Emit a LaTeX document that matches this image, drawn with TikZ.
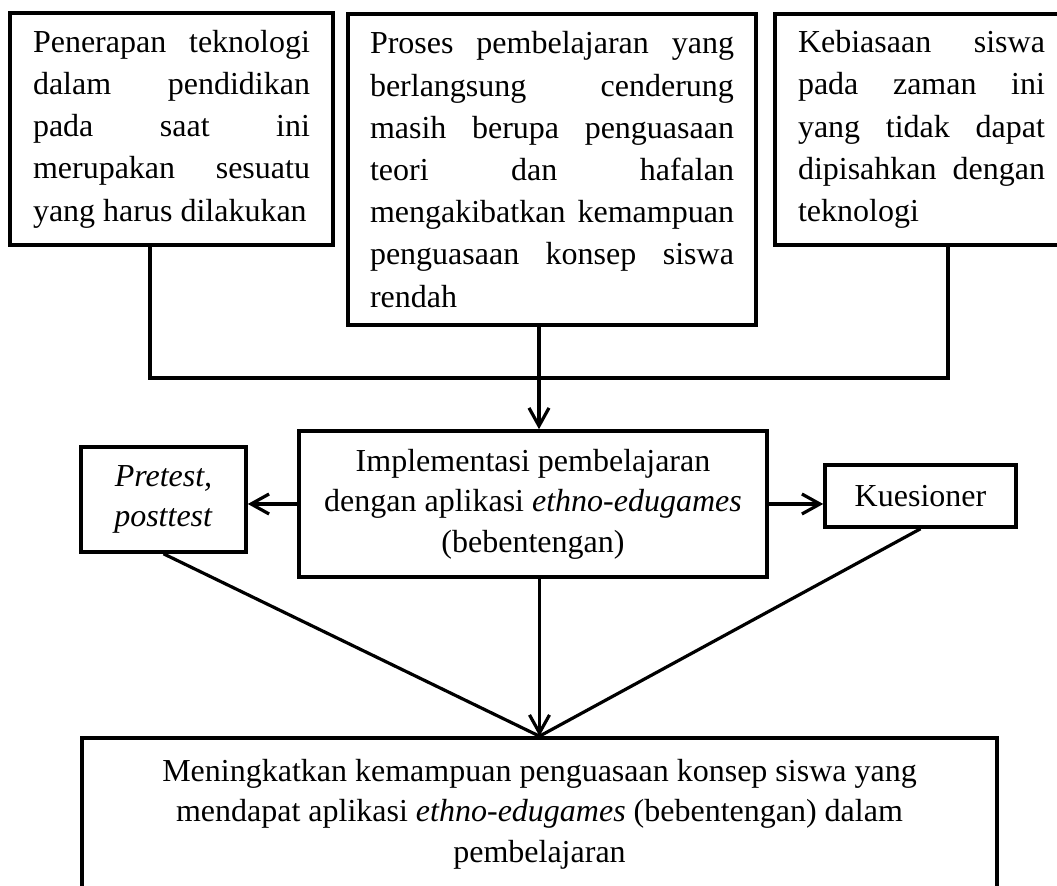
\documentclass[tikz,border=0pt]{standalone}
\usepackage{fontspec}
\setmainfont{Liberation Serif}
\usetikzlibrary{arrows.meta, positioning, calc}
\hbadness=10000
\tolerance=10000
\hyphenpenalty=10000

\begin{document}
\begin{tikzpicture}[
    x=0.5pt, y=-0.5pt, % 坐标按像素
    topbox/.style={draw, line width=1.8pt, align=justify, font=\fontsize{16}{21.1}\selectfont}, % 上方三个框(两端对齐)
    midbox/.style={draw, line width=1.8pt, align=center, font=\fontsize{16}{20.3}\selectfont}, % 中下方框(居中)
    link/.style={line width=1.6pt}, % 连线
    arr/.style={line width=1.6pt, -{Straight Barb[length=9pt, width=10pt]}} % 箭头
]
    \useasboundingbox (0,0) rectangle (1057,886);
    \clip (0,0) rectangle (1057,886);

    % 1. 上方三个框
    \node[topbox, minimum width=161.5pt, minimum height=116pt, text width=138.5pt] (penerapan) at (171.5,129)
        {Penerapan teknologi\linebreak dalam pendidikan\linebreak pada saat ini\linebreak merupakan sesuatu\linebreak yang harus dilakukan};
    \node[topbox, minimum width=204pt, minimum height=155.5pt, text width=182pt] (proses) at (552,169.5)
        {Proses pembelajaran yang\linebreak berlangsung cenderung\linebreak masih berupa penguasaan\linebreak teori dan hafalan\linebreak mengakibatkan kemampuan\linebreak penguasaan konsep siswa\linebreak rendah};
    \node[topbox, minimum width=146.5pt, minimum height=115.5pt, text width=123.5pt] (kebiasaan) at (921.5,129.5)
        {Kebiasaan siswa\linebreak pada zaman ini\linebreak yang tidak dapat\linebreak dipisahkan dengan\linebreak teknologi};

    % 2. 中间三个框
    \node[midbox, minimum width=234pt, minimum height=73pt] (impl) at (533,504)
        {Implementasi pembelajaran\\ dengan aplikasi \textit{ethno-edugames}\\ (bebentengan)};
    \node[midbox, minimum width=82.5pt, minimum height=52.5pt] (tes) at (163.5,499.5)
        {\textit{Pretest,}\\ \textit{posttest}};
    \node[midbox, minimum width=95.5pt, minimum height=31pt] (kuesioner) at (920.5,496) {Kuesioner};

    % 3. 下方结果框
    \node[midbox, minimum width=457.5pt, minimum height=76pt] (hasil) at (539.5,814)
        {Meningkatkan kemampuan penguasaan konsep siswa yang\\ mendapat aplikasi \textit{ethno-edugames} (bebentengan) dalam\\ pembelajaran};

    % 4. 连线与箭头
    \coordinate (kiri) at (150,378);
    \coordinate (tengah) at (539,378);
    \coordinate (kanan) at (948,378);
    \draw[link] (penerapan.south -| kiri) -- (kiri) -- (kanan) -- (kebiasaan.south -| kanan);
    \draw[arr] (proses.south -| tengah) -- (impl.north -| tengah);
    \draw[arr] (impl.west) -- (tes.east |- impl.west);
    \draw[arr] (impl.east) -- (kuesioner.west |- impl.east);
    \draw[link] (tes.south) -- (hasil.north);
    \draw[link] (kuesioner.south) -- (hasil.north);
    \draw[arr] (impl.south -| hasil.north) -- (hasil.north);

\end{tikzpicture}
\end{document}
